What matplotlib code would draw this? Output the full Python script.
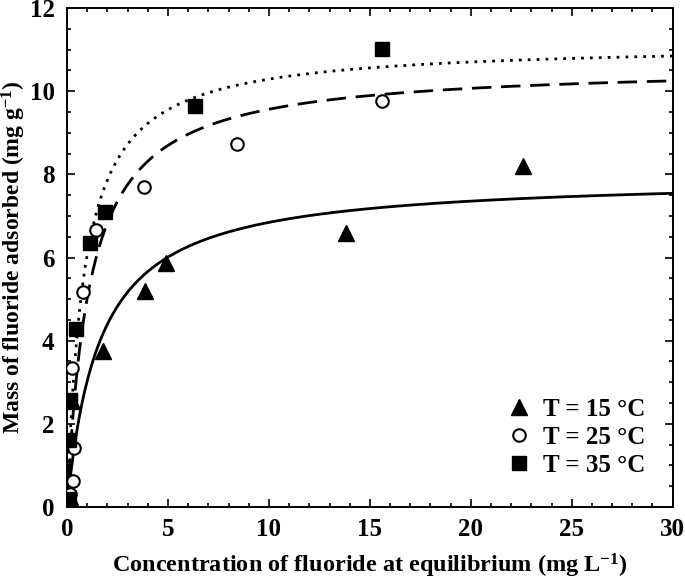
import numpy as np
import matplotlib
matplotlib.use('Agg')
import matplotlib.pyplot as plt
from matplotlib.ticker import MultipleLocator

plt.rcParams['font.family'] = ['Liberation Serif', 'DejaVu Serif']
plt.rcParams['font.weight'] = 'bold'
plt.rcParams['mathtext.fontset'] = 'custom'
plt.rcParams['mathtext.rm'] = 'Liberation Serif:bold'
plt.rcParams['mathtext.bf'] = 'Liberation Serif:bold'
plt.rcParams['mathtext.default'] = 'rm'

# measured points (Ce, qe)
ce_15 = [0.15, 0.2, 0.25, 1.8, 3.85, 4.9, 13.8, 22.6]
qe_15 = [0.25, 1.6, 2.55, 3.75, 5.2, 5.87, 6.6, 8.2]
ce_25 = [0.15, 0.3, 0.35, 0.25, 0.8, 1.45, 3.8, 8.4, 15.6]
qe_25 = [0.3, 0.62, 1.42, 3.35, 5.17, 6.67, 7.7, 8.73, 9.76]
ce_35 = [0.1, 0.1, 0.15, 0.45, 1.15, 1.9, 6.35, 15.6]
qe_35 = [0.2, 1.6, 2.58, 4.27, 6.35, 7.1, 9.65, 11.02]

# Langmuir fit parameters (qm, KL)
fit_15 = (7.95, 0.62)
fit_25 = (10.63, 0.9)
fit_35 = (11.15, 1.2)

fig = plt.figure(figsize=(6.85, 5.8), dpi=100)
ax = fig.add_axes([0.098, 0.126, 0.884, 0.86])

c = np.linspace(0.0, 30, 600)
for (qm, k), ls in [(fit_15, '-'), (fit_25, (0, (7, 3.5))), (fit_35, (0, (1, 2.2)))]:
    ax.plot(c, qm * k * c / (1 + k * c), color='black', lw=2.0, ls=ls, zorder=2)

ax.plot(ce_15, qe_15, '^', color='black', ms=12, ls='none', label='T = 15 °C', zorder=3)
ax.plot(ce_25, qe_25, 'o', mfc='white', mec='black', mew=1.5, ms=9, ls='none', label='T = 25 °C', zorder=3)
ax.plot(ce_35, qe_35, 's', color='black', ms=9.5, ls='none', label='T = 35 °C', zorder=3)

ax.set_xlim(0, 30)
ax.set_ylim(0, 12)
ax.xaxis.set_major_locator(MultipleLocator(5))
ax.xaxis.set_minor_locator(MultipleLocator(1))
ax.yaxis.set_major_locator(MultipleLocator(2))
ax.yaxis.set_minor_locator(MultipleLocator(0.5))
ax.tick_params(which='both', direction='in', top=True, right=True, labelsize=18, width=1.2)
ax.tick_params(which='major', length=6)
ax.tick_params(which='minor', length=3)
ax.tick_params(axis='x', pad=8)
ax.tick_params(axis='y', pad=9)
for s in ax.spines.values():
    s.set_linewidth(1.4)

ax.set_xlabel('Concentration of fluoride at equilibrium (mg L$^{-1}$)', fontsize=17.5, fontweight='bold', labelpad=8)
ax.set_ylabel('Mass of fluoride adsorbed (mg g$^{-1}$)', fontsize=17, fontweight='bold', labelpad=1)

leg = ax.legend(loc='lower right', bbox_to_anchor=(0.955, 0.06), frameon=False, fontsize=18,
                handlelength=1.0, handletextpad=0.46, labelspacing=0.2,
                borderpad=0, borderaxespad=0)

fig.savefig('out.png', dpi=100)
